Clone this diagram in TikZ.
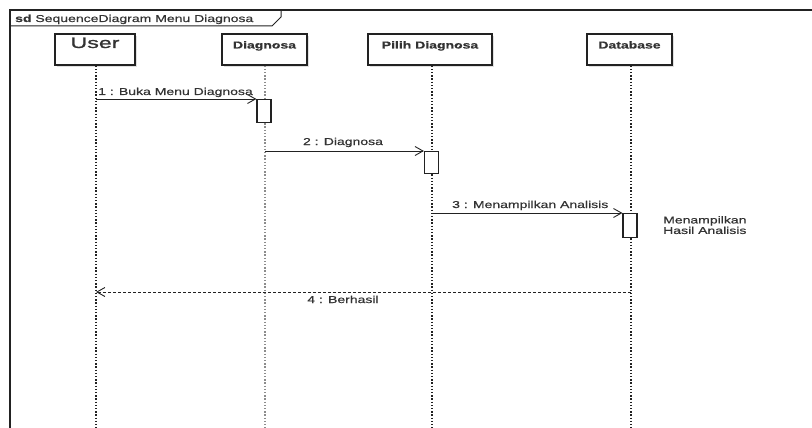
\documentclass[tikz,border=0pt]{standalone}
\usepackage{fontspec}
\usetikzlibrary{arrows.meta}
\newfontfamily\lblfont[FakeStretch=1.4,FakeBold=0.6]{Liberation Sans}
\newfontfamily\actorfont[FakeStretch=1.55,FakeBold=1.2]{Liberation Sans}
\definecolor{ink}{HTML}{222222}
\definecolor{txt}{HTML}{333333}
\begin{document}
\begin{tikzpicture}[x=1pt,y=-1pt,
  lbl/.style={font=\lblfont\fontsize{10}{10.5}\selectfont, text=txt, inner sep=0pt},
  actorbox/.style={draw=ink, line width=1.3pt, fill=white, minimum height=31pt,
    inner sep=2pt, font=\lblfont\bfseries\fontsize{10}{12}\selectfont, text=txt,
    text height=7pt, text depth=9pt},
  lifeline/.style={draw=ink, line width=1.6pt, dash pattern=on 1.4pt off 1.8pt},
  activation/.style={draw=ink, line width=1.2pt, fill=white, minimum width=14pt, inner sep=0pt},
  msg/.style={draw=ink, line width=0.9pt, -{Straight Barb[length=8pt,width=9pt,line width=0.9pt]}},
  reply/.style={msg, dash pattern=on 3pt off 2pt}]
\useasboundingbox (0,0) rectangle (812,428);

% outer frame and its name tab
\draw[ink, line width=1.6pt] (812,10) -- (10,10) -- (10,428);
\draw[ink, line width=1pt] (10,26) -- (272,26) -- (281,17) -- (281,10);
\node[lbl, anchor=base west] (title) at (15,22) {\textbf{sd} SequenceDiagram Menu Diagnosa};

% soft shadows behind the participant boxes
\foreach \x/\w in {95/80,264.5/85,430/124,629.5/85}
  \fill[black!12] (\x-\w/2+2,36) rectangle (\x+\w/2+2,67);

% participants
\node[actorbox, minimum width=80pt, font=\actorfont\fontsize{15}{16}\selectfont,
      text height=10pt, text depth=13pt] (user) at (95,49.5) {User};
\node[actorbox, minimum width=85pt] (diag) at (264.5,49.5) {Diagnosa};
\node[actorbox, minimum width=124pt] (pilih) at (430,49.5) {Pilih Diagnosa};
\node[actorbox, minimum width=85pt] (db) at (629.5,49.5) {Database};

% lifelines
\coordinate (userEnd) at (96,428);
\coordinate (diagEnd) at (265,428);
\coordinate (pilihEnd) at (432,428);
\coordinate (dbEnd) at (631,428);
\draw[lifeline] (user.south -| userEnd) -- (userEnd);
\draw[lifeline, draw=black!45] (diag.south -| diagEnd) -- (diagEnd);
\draw[lifeline] (pilih.south -| pilihEnd) -- (pilihEnd);
\draw[lifeline] (db.south -| dbEnd) -- (dbEnd);

% activations
\node[activation, minimum height=23pt, anchor=north] (act1) at (264,99) {};
\node[activation, minimum height=22pt, anchor=north] (act2) at (431.5,151) {};
\node[activation, minimum height=24pt, anchor=north] (act3) at (630,213) {};

% message origins on the lifelines
\coordinate (m1) at (96,99);
\coordinate (m2) at (265,151);
\coordinate (m3) at (432,213);
\coordinate (m4s) at (631,292);
\coordinate (m4e) at (96,292);

% messages
\draw[msg] (m1) -- (act1.north west);
\node[lbl, anchor=base west] (l1) at (98,95) {1 : Buka Menu Diagnosa};
\draw[msg] (m2) -- (act2.north west);
\node[lbl, anchor=base] (l2) at (343,145) {2 : Diagnosa};
\draw[msg] (m3) -- (act3.north west);
\node[lbl, anchor=base west] (l3) at (452,208) {3 : Menampilkan Analisis};
\node[lbl, anchor=north west, align=left] (note) at (663,216) {Menampilkan\\Hasil Analisis};
\draw[reply] (m4s) -- (m4e);
\node[lbl, anchor=base] (l4) at (343,303) {4 : Berhasil};
\end{tikzpicture}
\end{document}
